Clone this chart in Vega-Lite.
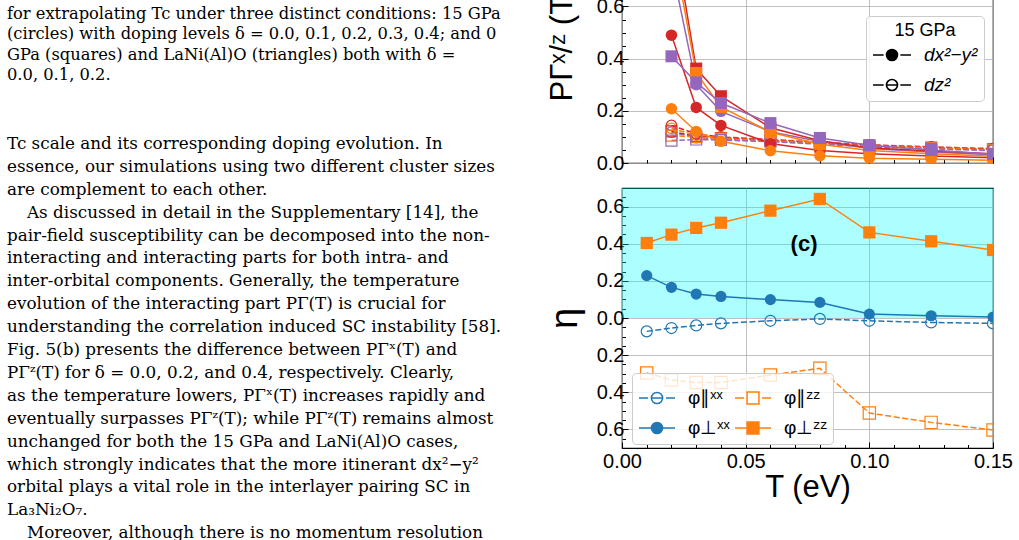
{
  "$schema": "https://vega.github.io/schema/vega-lite/v6.json",
  "background": "white",
  "padding": {"left": 0, "top": -78, "right": 0, "bottom": 0},
  "spacing": 25,
  "config": {
    "font": "Liberation Sans",
    "view": {"stroke": "black", "strokeWidth": 1.2},
    "axis": {"labelFont": "Liberation Sans", "labelFontSize": 20, "labelColor": "black", "titleFont": "Liberation Sans", "titleFontWeight": "normal", "titleColor": "black", "domain": false, "tickColor": "black", "tickWidth": 1, "gridColor": "#b0b0b0", "gridWidth": 0.8, "gridOpacity": 1}
  },
  "hconcat": [
    {
      "width": 520, "height": 618,
      "view": {"stroke": null},
      "layer": [
        {
          "data": {"values": [
            {"line": 0, "indent": 0, "text": "for extrapolating Tc under three distinct conditions: 15 GPa"},
            {"line": 1, "indent": 0, "text": "(circles) with doping levels δ = 0.0, 0.1, 0.2, 0.3, 0.4; and 0"},
            {"line": 2, "indent": 0, "text": "GPa (squares) and LaNi(Al)O (triangles) both with δ ="},
            {"line": 3, "indent": 0, "text": "0.0, 0.1, 0.2."}
          ]},
          "mark": {"type": "text", "align": "left", "baseline": "middle", "font": "DejaVu Serif", "fontSize": 16.3, "color": "black"},
          "encoding": {
            "x": {"field": "indent", "type": "quantitative", "scale": {"domain": [-0.35, 25.65], "nice": false, "zero": false}, "axis": null},
            "y": {"field": "line", "type": "quantitative", "scale": {"domain": [-4.483, 25.96], "nice": false, "zero": false, "reverse": true}, "axis": null},
            "text": {"field": "text", "type": "nominal"}
          }
        },
        {
          "data": {"values": [
            {"line": 0, "indent": 0, "text": "Tc scale and its corresponding doping evolution.   In"},
            {"line": 1, "indent": 0, "text": "essence, our simulations using two different cluster sizes"},
            {"line": 2, "indent": 0, "text": "are complement to each other."},
            {"line": 3, "indent": 1, "text": "As discussed in detail in the Supplementary [14], the"},
            {"line": 4, "indent": 0, "text": "pair-field susceptibility can be decomposed into the non-"},
            {"line": 5, "indent": 0, "text": "interacting and interacting parts for both intra- and"},
            {"line": 6, "indent": 0, "text": "inter-orbital components.   Generally, the temperature"},
            {"line": 7, "indent": 0, "text": "evolution of the interacting part PΓ(T) is crucial for"},
            {"line": 8, "indent": 0, "text": "understanding the correlation induced SC instability [58]."},
            {"line": 9, "indent": 0, "text": "Fig. 5(b) presents the difference between PΓˣ(T) and"},
            {"line": 10, "indent": 0, "text": "PΓᶻ(T) for δ = 0.0, 0.2, and 0.4, respectively.   Clearly,"},
            {"line": 11, "indent": 0, "text": "as the temperature lowers, PΓˣ(T) increases rapidly and"},
            {"line": 12, "indent": 0, "text": "eventually surpasses PΓᶻ(T); while PΓᶻ(T) remains almost"},
            {"line": 13, "indent": 0, "text": "unchanged for both the 15 GPa and LaNi(Al)O cases,"},
            {"line": 14, "indent": 0, "text": "which strongly indicates that the more itinerant dx²−y²"},
            {"line": 15, "indent": 0, "text": "orbital plays a vital role in the interlayer pairing SC in"},
            {"line": 16, "indent": 0, "text": "La₃Ni₂O₇."},
            {"line": 17, "indent": 1, "text": "Moreover, although there is no momentum resolution"}
          ]},
          "mark": {"type": "text", "align": "left", "baseline": "middle", "font": "DejaVu Serif", "fontSize": 16.8, "color": "black"},
          "encoding": {
            "x": {"field": "indent", "type": "quantitative", "scale": {"domain": [-0.35, 25.65], "nice": false, "zero": false}, "axis": null},
            "y": {"field": "line", "type": "quantitative", "scale": {"domain": [-9.651, 17.34], "nice": false, "zero": false, "reverse": true}, "axis": null},
            "text": {"field": "text", "type": "nominal"}
          }
        }
      ],
      "resolve": {"scale": {"y": "independent"}}
    },
    {
      "spacing": 13,
      "vconcat": [
        {
          "width": 371, "height": 240,
          "data": {"values": [
            {"T": 0.02, "P": 0.49, "d": "0.0", "m": "circle", "o": "dx"},
            {"T": 0.03, "P": 0.213, "d": "0.0", "m": "circle", "o": "dx"},
            {"T": 0.04, "P": 0.144, "d": "0.0", "m": "circle", "o": "dx"},
            {"T": 0.06, "P": 0.075, "d": "0.0", "m": "circle", "o": "dx"},
            {"T": 0.08, "P": 0.048, "d": "0.0", "m": "circle", "o": "dx"},
            {"T": 0.10, "P": 0.035, "d": "0.0", "m": "circle", "o": "dx"},
            {"T": 0.125, "P": 0.027, "d": "0.0", "m": "circle", "o": "dx"},
            {"T": 0.15, "P": 0.02, "d": "0.0", "m": "circle", "o": "dx"},
            {"T": 0.02, "P": 0.208, "d": "0.2", "m": "circle", "o": "dx"},
            {"T": 0.03, "P": 0.121, "d": "0.2", "m": "circle", "o": "dx"},
            {"T": 0.04, "P": 0.083, "d": "0.2", "m": "circle", "o": "dx"},
            {"T": 0.06, "P": 0.047, "d": "0.2", "m": "circle", "o": "dx"},
            {"T": 0.08, "P": 0.028, "d": "0.2", "m": "circle", "o": "dx"},
            {"T": 0.10, "P": 0.018, "d": "0.2", "m": "circle", "o": "dx"},
            {"T": 0.125, "P": 0.014, "d": "0.2", "m": "circle", "o": "dx"},
            {"T": 0.15, "P": 0.011, "d": "0.2", "m": "circle", "o": "dx"},
            {"T": 0.02, "P": 0.76, "d": "0.4", "m": "circle", "o": "dx"},
            {"T": 0.03, "P": 0.3, "d": "0.4", "m": "circle", "o": "dx"},
            {"T": 0.04, "P": 0.198, "d": "0.4", "m": "circle", "o": "dx"},
            {"T": 0.06, "P": 0.12, "d": "0.4", "m": "circle", "o": "dx"},
            {"T": 0.08, "P": 0.082, "d": "0.4", "m": "circle", "o": "dx"},
            {"T": 0.10, "P": 0.056, "d": "0.4", "m": "circle", "o": "dx"},
            {"T": 0.125, "P": 0.042, "d": "0.4", "m": "circle", "o": "dx"},
            {"T": 0.15, "P": 0.032, "d": "0.4", "m": "circle", "o": "dx"},
            {"T": 0.02, "P": 0.93, "d": "0.0", "m": "square", "o": "dx"},
            {"T": 0.03, "P": 0.362, "d": "0.0", "m": "square", "o": "dx"},
            {"T": 0.04, "P": 0.256, "d": "0.0", "m": "square", "o": "dx"},
            {"T": 0.06, "P": 0.135, "d": "0.0", "m": "square", "o": "dx"},
            {"T": 0.08, "P": 0.085, "d": "0.0", "m": "square", "o": "dx"},
            {"T": 0.10, "P": 0.058, "d": "0.0", "m": "square", "o": "dx"},
            {"T": 0.125, "P": 0.046, "d": "0.0", "m": "square", "o": "dx"},
            {"T": 0.15, "P": 0.035, "d": "0.0", "m": "square", "o": "dx"},
            {"T": 0.02, "P": 0.86, "d": "0.2", "m": "square", "o": "dx"},
            {"T": 0.03, "P": 0.345, "d": "0.2", "m": "square", "o": "dx"},
            {"T": 0.04, "P": 0.215, "d": "0.2", "m": "square", "o": "dx"},
            {"T": 0.06, "P": 0.118, "d": "0.2", "m": "square", "o": "dx"},
            {"T": 0.08, "P": 0.072, "d": "0.2", "m": "square", "o": "dx"},
            {"T": 0.10, "P": 0.048, "d": "0.2", "m": "square", "o": "dx"},
            {"T": 0.125, "P": 0.035, "d": "0.2", "m": "square", "o": "dx"},
            {"T": 0.15, "P": 0.026, "d": "0.2", "m": "square", "o": "dx"},
            {"T": 0.02, "P": 0.409, "d": "0.4", "m": "square", "o": "dx"},
            {"T": 0.03, "P": 0.309, "d": "0.4", "m": "square", "o": "dx"},
            {"T": 0.04, "P": 0.23, "d": "0.4", "m": "square", "o": "dx"},
            {"T": 0.06, "P": 0.153, "d": "0.4", "m": "square", "o": "dx"},
            {"T": 0.08, "P": 0.096, "d": "0.4", "m": "square", "o": "dx"},
            {"T": 0.10, "P": 0.068, "d": "0.4", "m": "square", "o": "dx"},
            {"T": 0.125, "P": 0.05, "d": "0.4", "m": "square", "o": "dx"},
            {"T": 0.15, "P": 0.034, "d": "0.4", "m": "square", "o": "dx"},
            {"T": 0.02, "P": 0.144, "d": "0.0", "m": "circle", "o": "dz"},
            {"T": 0.03, "P": 0.112, "d": "0.0", "m": "circle", "o": "dz"},
            {"T": 0.04, "P": 0.1, "d": "0.0", "m": "circle", "o": "dz"},
            {"T": 0.06, "P": 0.09, "d": "0.0", "m": "circle", "o": "dz"},
            {"T": 0.08, "P": 0.08, "d": "0.0", "m": "circle", "o": "dz"},
            {"T": 0.10, "P": 0.07, "d": "0.0", "m": "circle", "o": "dz"},
            {"T": 0.125, "P": 0.062, "d": "0.0", "m": "circle", "o": "dz"},
            {"T": 0.15, "P": 0.055, "d": "0.0", "m": "circle", "o": "dz"},
            {"T": 0.02, "P": 0.133, "d": "0.2", "m": "circle", "o": "dz"},
            {"T": 0.03, "P": 0.106, "d": "0.2", "m": "circle", "o": "dz"},
            {"T": 0.04, "P": 0.097, "d": "0.2", "m": "circle", "o": "dz"},
            {"T": 0.06, "P": 0.088, "d": "0.2", "m": "circle", "o": "dz"},
            {"T": 0.08, "P": 0.078, "d": "0.2", "m": "circle", "o": "dz"},
            {"T": 0.10, "P": 0.068, "d": "0.2", "m": "circle", "o": "dz"},
            {"T": 0.125, "P": 0.06, "d": "0.2", "m": "circle", "o": "dz"},
            {"T": 0.15, "P": 0.053, "d": "0.2", "m": "circle", "o": "dz"},
            {"T": 0.02, "P": 0.118, "d": "0.4", "m": "circle", "o": "dz"},
            {"T": 0.03, "P": 0.097, "d": "0.4", "m": "circle", "o": "dz"},
            {"T": 0.04, "P": 0.092, "d": "0.4", "m": "circle", "o": "dz"},
            {"T": 0.06, "P": 0.084, "d": "0.4", "m": "circle", "o": "dz"},
            {"T": 0.08, "P": 0.074, "d": "0.4", "m": "circle", "o": "dz"},
            {"T": 0.10, "P": 0.064, "d": "0.4", "m": "circle", "o": "dz"},
            {"T": 0.125, "P": 0.056, "d": "0.4", "m": "circle", "o": "dz"},
            {"T": 0.15, "P": 0.05, "d": "0.4", "m": "circle", "o": "dz"},
            {"T": 0.02, "P": 0.121, "d": "0.0", "m": "square", "o": "dz"},
            {"T": 0.03, "P": 0.102, "d": "0.0", "m": "square", "o": "dz"},
            {"T": 0.04, "P": 0.096, "d": "0.0", "m": "square", "o": "dz"},
            {"T": 0.06, "P": 0.087, "d": "0.0", "m": "square", "o": "dz"},
            {"T": 0.08, "P": 0.077, "d": "0.0", "m": "square", "o": "dz"},
            {"T": 0.10, "P": 0.067, "d": "0.0", "m": "square", "o": "dz"},
            {"T": 0.125, "P": 0.059, "d": "0.0", "m": "square", "o": "dz"},
            {"T": 0.15, "P": 0.052, "d": "0.0", "m": "square", "o": "dz"},
            {"T": 0.02, "P": 0.105, "d": "0.2", "m": "square", "o": "dz"},
            {"T": 0.03, "P": 0.099, "d": "0.2", "m": "square", "o": "dz"},
            {"T": 0.04, "P": 0.094, "d": "0.2", "m": "square", "o": "dz"},
            {"T": 0.06, "P": 0.085, "d": "0.2", "m": "square", "o": "dz"},
            {"T": 0.08, "P": 0.075, "d": "0.2", "m": "square", "o": "dz"},
            {"T": 0.10, "P": 0.065, "d": "0.2", "m": "square", "o": "dz"},
            {"T": 0.125, "P": 0.057, "d": "0.2", "m": "square", "o": "dz"},
            {"T": 0.15, "P": 0.05, "d": "0.2", "m": "square", "o": "dz"},
            {"T": 0.02, "P": 0.086, "d": "0.4", "m": "square", "o": "dz"},
            {"T": 0.03, "P": 0.09, "d": "0.4", "m": "square", "o": "dz"},
            {"T": 0.04, "P": 0.088, "d": "0.4", "m": "square", "o": "dz"},
            {"T": 0.06, "P": 0.082, "d": "0.4", "m": "square", "o": "dz"},
            {"T": 0.08, "P": 0.072, "d": "0.4", "m": "square", "o": "dz"},
            {"T": 0.10, "P": 0.062, "d": "0.4", "m": "square", "o": "dz"},
            {"T": 0.125, "P": 0.054, "d": "0.4", "m": "square", "o": "dz"},
            {"T": 0.15, "P": 0.047, "d": "0.4", "m": "square", "o": "dz"}
          ]},
          "layer": [
            {
              "transform": [{"filter": "datum.o === 'dz'"}],
              "mark": {"type": "line", "strokeWidth": 1.5, "strokeDash": [5.5, 2.4], "clip": true},
              "encoding": {
                "x": {"field": "T", "type": "quantitative", "scale": {"domain": [0, 0.15], "nice": false}, "axis": {"orient": "bottom", "values": [0, 0.05, 0.1, 0.15], "labels": false, "title": null, "grid": true, "tickSize": -6}},
                "y": {"field": "P", "type": "quantitative", "scale": {"domain": [0, 0.92], "nice": false}, "axis": {"orient": "left", "values": [0, 0.2, 0.4, 0.6, 0.8], "format": ".1f", "grid": true, "tickSize": -6, "labelPadding": 4, "title": "PΓˣ/ᶻ (T)", "titleFontSize": 31, "titleX": -51, "titleY": 120, "titleBaseline": "alphabetic", "titleAngle": -90, "titleAlign": "center"}},
                "color": {"field": "d", "type": "nominal", "scale": {"domain": ["0.0", "0.2", "0.4", "pxx", "pzz", "txx", "tzz"], "range": ["#d62728", "#ff7f0e", "#9467bd", "#1f77b4", "#ff7f0e", "#1f77b4", "#ff7f0e"]}, "legend": null},
                "detail": {"field": "m", "type": "nominal"}
              }
            },
            {
              "transform": [{"filter": "datum.o === 'dx'"}],
              "mark": {"type": "line", "strokeWidth": 1.5, "clip": true},
              "encoding": {
                "x": {"field": "T", "type": "quantitative", "axis": null},
                "y": {"field": "P", "type": "quantitative", "axis": null},
                "color": {"field": "d", "type": "nominal", "legend": null},
                "detail": {"field": "m", "type": "nominal"}
              }
            },
            {
              "transform": [{"filter": "datum.o === 'dz' && datum.m === 'circle'"}],
              "mark": {"type": "point", "shape": "circle", "filled": false, "size": 110, "strokeWidth": 1.2, "opacity": 1, "clip": true},
              "encoding": {
                "x": {"field": "T", "type": "quantitative", "axis": null},
                "y": {"field": "P", "type": "quantitative", "axis": null},
                "color": {"field": "d", "type": "nominal", "legend": null}
              }
            },
            {
              "transform": [{"filter": "datum.o === 'dz' && datum.m === 'square'"}],
              "mark": {"type": "point", "shape": "square", "filled": false, "size": 120, "strokeWidth": 1.2, "opacity": 1, "clip": true},
              "encoding": {
                "x": {"field": "T", "type": "quantitative", "axis": null},
                "y": {"field": "P", "type": "quantitative", "axis": null},
                "color": {"field": "d", "type": "nominal", "legend": null}
              }
            },
            {
              "transform": [{"filter": "datum.o === 'dx' && datum.m === 'circle'"}],
              "mark": {"type": "point", "shape": "circle", "filled": true, "size": 132, "opacity": 1, "clip": true},
              "encoding": {
                "x": {"field": "T", "type": "quantitative", "axis": {"orient": "bottom", "values": [0.01, 0.02, 0.03, 0.04, 0.06, 0.07, 0.08, 0.09, 0.11, 0.12, 0.13, 0.14], "labels": false, "grid": false, "tickSize": -3.5, "title": null}},
                "y": {"field": "P", "type": "quantitative", "axis": {"orient": "left", "values": [0.05, 0.1, 0.15, 0.25, 0.3, 0.35, 0.45, 0.5, 0.55, 0.65, 0.7, 0.75, 0.85, 0.9], "labels": false, "grid": false, "tickSize": -3.5, "title": null}},
                "color": {"field": "d", "type": "nominal", "legend": null}
              }
            },
            {
              "transform": [{"filter": "datum.o === 'dx' && datum.m === 'square'"}],
              "mark": {"type": "point", "shape": "square", "filled": true, "size": 144, "opacity": 1, "clip": true},
              "encoding": {
                "x": {"field": "T", "type": "quantitative", "axis": null},
                "y": {"field": "P", "type": "quantitative", "axis": null},
                "color": {"field": "d", "type": "nominal", "legend": null}
              }
            },
            {
              "data": {"values": [{"o": "dx"}, {"o": "dz"}]},
              "mark": {"type": "point", "shape": "M-1,0L-0.44,0M1,0L0.44,0M-0.29,0L0.29,0M0.29,0A0.29,0.29,0,1,1,-0.29,0A0.29,0.29,0,1,1,0.29,0Z", "stroke": "black", "strokeWidth": 1.6, "opacity": 1, "invalid": "filter"},
              "encoding": {
                "x": {"field": "T", "type": "quantitative", "axis": null},
                "y": {"field": "P", "type": "quantitative", "axis": null},
                "fill": {"field": "o", "type": "nominal", "scale": {"domain": ["dx", "dz"], "range": ["black", "transparent"]},
                  "legend": {"title": "15 GPa", "orient": "none", "legendX": 866, "legendY": 93, "symbolSize": 1444, "symbolStrokeWidth": 1.6, "symbolStrokeColor": "black", "labelExpr": "datum.value === 'dx' ? 'dx²−y²' : 'dz²'", "labelFont": "Liberation Sans", "labelFontSize": 19, "labelFontStyle": "italic", "labelColor": "black", "labelOffset": 12, "titleFont": "Liberation Sans", "titleFontSize": 18, "titleFontWeight": "normal", "titleColor": "black", "titleAnchor": "middle", "titlePadding": -5, "rowPadding": 0, "padding": 6, "fillColor": "rgba(255,255,255,0.8)", "strokeColor": "#cccccc", "cornerRadius": 4}}
              }
            }
          ],
          "resolve": {"axis": {"x": "independent", "y": "independent"}}
        },
        {
          "width": 371, "height": 260,
          "data": {"values": [
            {"T": 0.01, "eta": 0.404, "s": "tzz"},
            {"T": 0.02, "eta": 0.449, "s": "tzz"},
            {"T": 0.03, "eta": 0.485, "s": "tzz"},
            {"T": 0.04, "eta": 0.513, "s": "tzz"},
            {"T": 0.06, "eta": 0.578, "s": "tzz"},
            {"T": 0.08, "eta": 0.641, "s": "tzz"},
            {"T": 0.10, "eta": 0.461, "s": "tzz"},
            {"T": 0.125, "eta": 0.413, "s": "tzz"},
            {"T": 0.15, "eta": 0.366, "s": "tzz"},
            {"T": 0.01, "eta": 0.228, "s": "txx"},
            {"T": 0.02, "eta": 0.165, "s": "txx"},
            {"T": 0.03, "eta": 0.129, "s": "txx"},
            {"T": 0.04, "eta": 0.116, "s": "txx"},
            {"T": 0.06, "eta": 0.099, "s": "txx"},
            {"T": 0.08, "eta": 0.084, "s": "txx"},
            {"T": 0.10, "eta": 0.021, "s": "txx"},
            {"T": 0.125, "eta": 0.012, "s": "txx"},
            {"T": 0.15, "eta": 0.005, "s": "txx"},
            {"T": 0.01, "eta": -0.072, "s": "pxx"},
            {"T": 0.02, "eta": -0.054, "s": "pxx"},
            {"T": 0.03, "eta": -0.040, "s": "pxx"},
            {"T": 0.04, "eta": -0.029, "s": "pxx"},
            {"T": 0.06, "eta": -0.015, "s": "pxx"},
            {"T": 0.08, "eta": -0.005, "s": "pxx"},
            {"T": 0.10, "eta": -0.015, "s": "pxx"},
            {"T": 0.125, "eta": -0.024, "s": "pxx"},
            {"T": 0.15, "eta": -0.029, "s": "pxx"},
            {"T": 0.01, "eta": -0.296, "s": "pzz"},
            {"T": 0.02, "eta": -0.334, "s": "pzz"},
            {"T": 0.03, "eta": -0.347, "s": "pzz"},
            {"T": 0.04, "eta": -0.347, "s": "pzz"},
            {"T": 0.06, "eta": -0.307, "s": "pzz"},
            {"T": 0.08, "eta": -0.271, "s": "pzz"},
            {"T": 0.10, "eta": -0.512, "s": "pzz"},
            {"T": 0.125, "eta": -0.562, "s": "pzz"},
            {"T": 0.15, "eta": -0.603, "s": "pzz"}
          ]},
          "layer": [
            {
              "data": {"values": [{"lo": 0, "hi": 0.7}]},
              "mark": {"type": "rect", "color": "#00ffff", "opacity": 0.32},
              "encoding": {
                "y": {"field": "lo", "type": "quantitative", "scale": {"domain": [-0.7, 0.7], "nice": false}, "axis": null},
                "y2": {"field": "hi"}
              }
            },
            {
              "transform": [{"filter": "datum.s === 'pxx' || datum.s === 'pzz'"}],
              "mark": {"type": "line", "strokeWidth": 1.5, "strokeDash": [6, 2.6], "clip": true},
              "encoding": {
                "x": {"field": "T", "type": "quantitative", "scale": {"domain": [0, 0.15], "nice": false}, "axis": {"orient": "bottom", "values": [0, 0.05, 0.1, 0.15], "format": ".2f", "grid": true, "tickSize": -6, "labelPadding": 9, "labelFlush": false, "title": "T (eV)", "titleFontSize": 31, "titlePadding": 1}},
                "y": {"field": "eta", "type": "quantitative", "axis": {"orient": "left", "values": [-0.6, -0.4, -0.2, 0, 0.2, 0.4, 0.6], "labelExpr": "format(abs(datum.value), '.1f')", "grid": true, "tickSize": -6, "labelPadding": 4, "title": "η", "titleFontSize": 38, "titleX": -46, "titleY": 130, "titleBaseline": "alphabetic", "titleAngle": -90, "titleAlign": "center"}},
                "color": {"field": "s", "type": "nominal", "scale": {"domain": ["0.0", "0.2", "0.4", "pxx", "pzz", "txx", "tzz"], "range": ["#d62728", "#ff7f0e", "#9467bd", "#1f77b4", "#ff7f0e", "#1f77b4", "#ff7f0e"]}, "legend": null}
              }
            },
            {
              "transform": [{"filter": "datum.s === 'txx' || datum.s === 'tzz'"}],
              "mark": {"type": "line", "strokeWidth": 1.5, "clip": true},
              "encoding": {
                "x": {"field": "T", "type": "quantitative", "axis": null},
                "y": {"field": "eta", "type": "quantitative", "axis": null},
                "color": {"field": "s", "type": "nominal", "legend": null}
              }
            },
            {
              "transform": [{"filter": "datum.s === 'pxx'"}],
              "mark": {"type": "point", "shape": "circle", "filled": false, "size": 121, "strokeWidth": 1.2, "opacity": 1, "clip": true},
              "encoding": {
                "x": {"field": "T", "type": "quantitative", "axis": null},
                "y": {"field": "eta", "type": "quantitative", "axis": null},
                "color": {"field": "s", "type": "nominal", "legend": null}
              }
            },
            {
              "transform": [{"filter": "datum.s === 'pzz'"}],
              "mark": {"type": "point", "shape": "square", "filled": false, "size": 150, "strokeWidth": 1.2, "opacity": 1, "clip": true},
              "encoding": {
                "x": {"field": "T", "type": "quantitative", "axis": null},
                "y": {"field": "eta", "type": "quantitative", "axis": null},
                "color": {"field": "s", "type": "nominal", "legend": null}
              }
            },
            {
              "transform": [{"filter": "datum.s === 'txx'"}],
              "mark": {"type": "point", "shape": "circle", "filled": true, "size": 125, "opacity": 1, "clip": true},
              "encoding": {
                "x": {"field": "T", "type": "quantitative", "axis": null},
                "y": {"field": "eta", "type": "quantitative", "axis": null},
                "color": {"field": "s", "type": "nominal", "legend": null}
              }
            },
            {
              "transform": [{"filter": "datum.s === 'tzz'"}],
              "mark": {"type": "point", "shape": "square", "filled": true, "size": 150, "opacity": 1, "clip": true},
              "encoding": {
                "x": {"field": "T", "type": "quantitative", "axis": null},
                "y": {"field": "eta", "type": "quantitative", "axis": null},
                "color": {"field": "s", "type": "nominal", "legend": null}
              }
            },
            {
              "data": {"values": [{"T": 0.0736, "eta": 0.4, "label": "(c)"}]},
              "mark": {"type": "text", "font": "Liberation Sans", "fontSize": 22, "fontWeight": "bold", "color": "black"},
              "encoding": {
                "x": {"field": "T", "type": "quantitative", "axis": {"orient": "bottom", "values": [0.01, 0.02, 0.03, 0.04, 0.06, 0.07, 0.08, 0.09, 0.11, 0.12, 0.13, 0.14], "labels": false, "grid": false, "tickSize": -3.5, "title": null}},
                "y": {"field": "eta", "type": "quantitative", "axis": {"orient": "left", "values": [-0.65, -0.55, -0.5, -0.45, -0.35, -0.3, -0.25, -0.15, -0.1, -0.05, 0.05, 0.1, 0.15, 0.25, 0.3, 0.35, 0.45, 0.5, 0.55, 0.65], "labels": false, "grid": false, "tickSize": -3.5, "title": null}},
                "text": {"field": "label", "type": "nominal"}
              }
            },
            {
              "data": {"values": [{"s": "pxx"}, {"s": "pzz"}, {"s": "txx"}, {"s": "tzz"}]},
              "mark": {"type": "point", "filled": false, "strokeWidth": 1.5, "opacity": 1, "invalid": "filter"},
              "encoding": {
                "x": {"field": "T", "type": "quantitative", "axis": null},
                "y": {"field": "eta", "type": "quantitative", "axis": null},
                "shape": {"field": "s", "type": "nominal", "scale": {"domain": ["pxx", "txx", "pzz", "tzz"], "range": [
                    "M-1,0L-0.5,0M1,0L0.5,0M-0.31,0L0.31,0M0.31,0A0.31,0.31,0,1,1,-0.31,0A0.31,0.31,0,1,1,0.31,0Z",
                    "M-1,0L1,0M0.31,0A0.31,0.31,0,1,1,-0.31,0A0.31,0.31,0,1,1,0.31,0ZM0.24,0A0.24,0.24,0,1,1,-0.24,0A0.24,0.24,0,1,1,0.24,0ZM0.17,0A0.17,0.17,0,1,1,-0.17,0A0.17,0.17,0,1,1,0.17,0ZM0.1,0A0.1,0.1,0,1,1,-0.1,0A0.1,0.1,0,1,1,0.1,0ZM0.04,0A0.04,0.04,0,1,1,-0.04,0A0.04,0.04,0,1,1,0.04,0Z",
                    "M-1,0L-0.5,0M1,0L0.5,0M-0.33,-0.33L0.33,-0.33L0.33,0.33L-0.33,0.33Z",
                    "M-1,0L1,0M-0.33,-0.33L0.33,-0.33L0.33,0.33L-0.33,0.33ZM-0.26,-0.26L0.26,-0.26L0.26,0.26L-0.26,0.26ZM-0.19,-0.19L0.19,-0.19L0.19,0.19L-0.19,0.19ZM-0.12,-0.12L0.12,-0.12L0.12,0.12L-0.12,0.12ZM-0.05,-0.05L0.05,-0.05L0.05,0.05L-0.05,0.05Z"]},
                  "legend": {"title": null, "orient": "none", "legendX": 632, "legendY": 450, "columns": 2, "symbolSize": 1296, "symbolStrokeWidth": 1.5, "labelExpr": "datum.value === 'pxx' ? 'φ∥ˣˣ' : datum.value === 'pzz' ? 'φ∥ᶻᶻ' : datum.value === 'txx' ? 'φ⊥ˣˣ' : 'φ⊥ᶻᶻ'", "labelFont": "Liberation Sans", "labelFontSize": 19, "labelColor": "black", "labelOffset": 12, "columnPadding": 2, "rowPadding": 1, "padding": 6, "fillColor": "rgba(255,255,255,0.8)", "strokeColor": "#cccccc", "cornerRadius": 4}},
                "stroke": {"field": "s", "type": "nominal", "scale": {"domain": ["pxx", "txx", "pzz", "tzz"], "range": ["#1f77b4", "#1f77b4", "#ff7f0e", "#ff7f0e"]},
                  "legend": {"title": null, "orient": "none", "legendX": 632, "legendY": 450, "columns": 2, "symbolSize": 1296, "symbolStrokeWidth": 1.5, "labelExpr": "datum.value === 'pxx' ? 'φ∥ˣˣ' : datum.value === 'pzz' ? 'φ∥ᶻᶻ' : datum.value === 'txx' ? 'φ⊥ˣˣ' : 'φ⊥ᶻᶻ'", "labelFont": "Liberation Sans", "labelFontSize": 19, "labelColor": "black", "labelOffset": 12, "columnPadding": 2, "rowPadding": 1, "padding": 6, "fillColor": "rgba(255,255,255,0.8)", "strokeColor": "#cccccc", "cornerRadius": 4}}
              }
            }
          ],
          "resolve": {"axis": {"x": "independent", "y": "independent"}}
        }
      ]
    }
  ]
}
